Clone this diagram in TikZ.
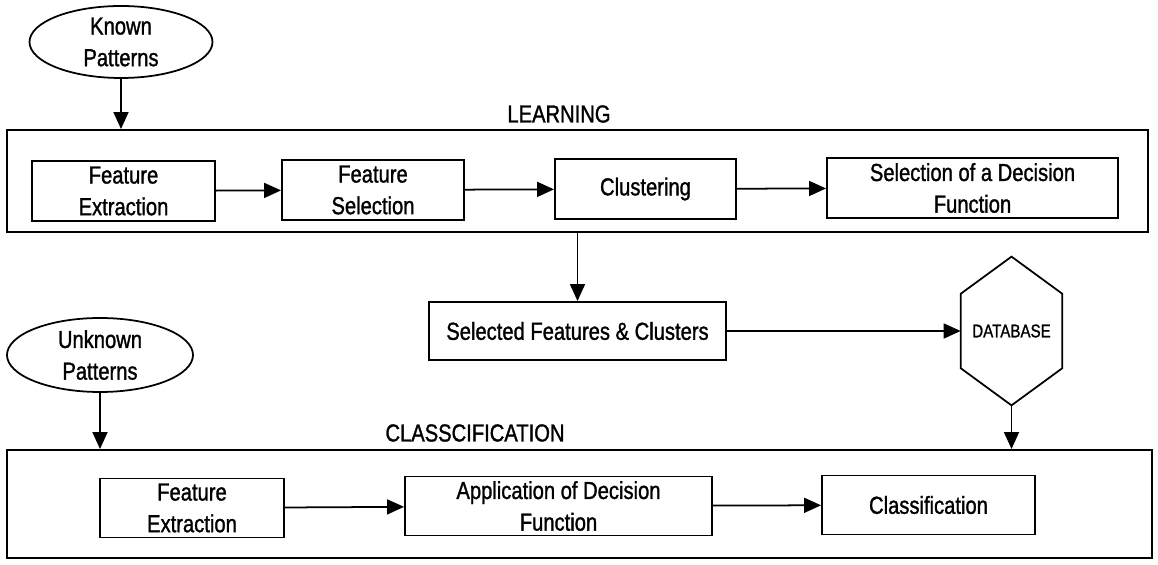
\documentclass[tikz,border=0pt]{standalone}
\usepackage{fontspec}
\setmainfont{Liberation Sans}[FakeStretch=0.82,FakeBold=1.2]
\usetikzlibrary{arrows.meta,shapes.geometric,calc}

\tikzset{
  box/.style={draw, line width=1.1pt, align=center, inner sep=1pt, minimum height=1.2cm, font=\fontsize{14}{18}\selectfont},
  panel/.style={draw, line width=1.1pt},
  source/.style={draw, ellipse, line width=1pt, align=center, inner sep=0pt, font=\fontsize{14}{18}\selectfont},
  title/.style={font=\fontsize{14}{16}\selectfont},
  flow/.style={line width=1pt, -{Triangle[length=0.34cm,width=0.3cm]}}
}

\begin{document}
\begin{tikzpicture}
\useasboundingbox (0,0) rectangle (23.16,-11.3);

% Learning part
\node[source, minimum width=3.66cm, minimum height=1.44cm] (known) at (2.42,-0.84) {Known\\Patterns};
\node[panel, minimum width=22.82cm, minimum height=2.04cm] (learn) at (11.55,-3.62) {};
\node[title] (learntitle) at (11.18,-2.28) {LEARNING};
\node[box, minimum width=3.66cm] (extract) at (2.47,-3.82) {Feature\\Extraction};
\node[box, minimum width=3.64cm] (select) at (7.46,-3.8) {Feature\\Selection};
\node[box, minimum width=3.62cm] (cluster) at (12.91,-3.78) {Clustering};
\node[box, minimum width=5.82cm] (decide) at (19.45,-3.76) {Selection of a Decision\\Function};

\draw[flow] (known) -- (known |- learn.north);
\draw[flow] (extract) -- (select);
\draw[flow] (select) -- (cluster);
\draw[flow] (cluster) -- (decide);

% Stored results
\node[box, minimum width=5.94cm, minimum height=1.16cm] (store) at (11.55,-6.62) {Selected Features \& Clusters};
\node[inner sep=0pt, minimum width=2.02cm, minimum height=2.96cm, font=\fontsize{10.5}{12}\selectfont] (db) at (20.23,-6.62) {DATABASE};
\draw[line width=1pt] (db.north) -- ($(db.north east)!0.25!(db.south east)$) -- ($(db.north east)!0.75!(db.south east)$)
  -- (db.south) -- ($(db.north west)!0.75!(db.south west)$) -- ($(db.north west)!0.25!(db.south west)$) -- cycle;

\draw[flow] (learn.south -| store) -- (store);
\draw[flow] (store) -- (db);

% Classification part
\node[source, minimum width=3.72cm, minimum height=1.48cm] (unknown) at (2.0,-7.1) {Unknown\\Patterns};
\node[panel, minimum width=22.9cm, minimum height=2.16cm] (classify) at (11.59,-10.08) {};
\node[title] (classtitle) at (9.5,-8.66) {CLASSCIFICATION};
\node[box, minimum width=3.68cm, minimum height=1.18cm] (extract2) at (3.84,-10.16) {Feature\\Extraction};
\node[box, minimum width=6.14cm, minimum height=1.18cm] (apply) at (11.17,-10.12) {Application of Decision\\Function};
\node[box, minimum width=4.26cm, minimum height=1.18cm] (result) at (18.57,-10.1) {Classification};

\draw[flow] (unknown) -- (unknown |- classify.north);
\draw[flow] (db.south) -- (db.south |- classify.north);
\draw[flow] (extract2) -- (apply);
\draw[flow] (apply) -- (result);
\end{tikzpicture}
\end{document}
